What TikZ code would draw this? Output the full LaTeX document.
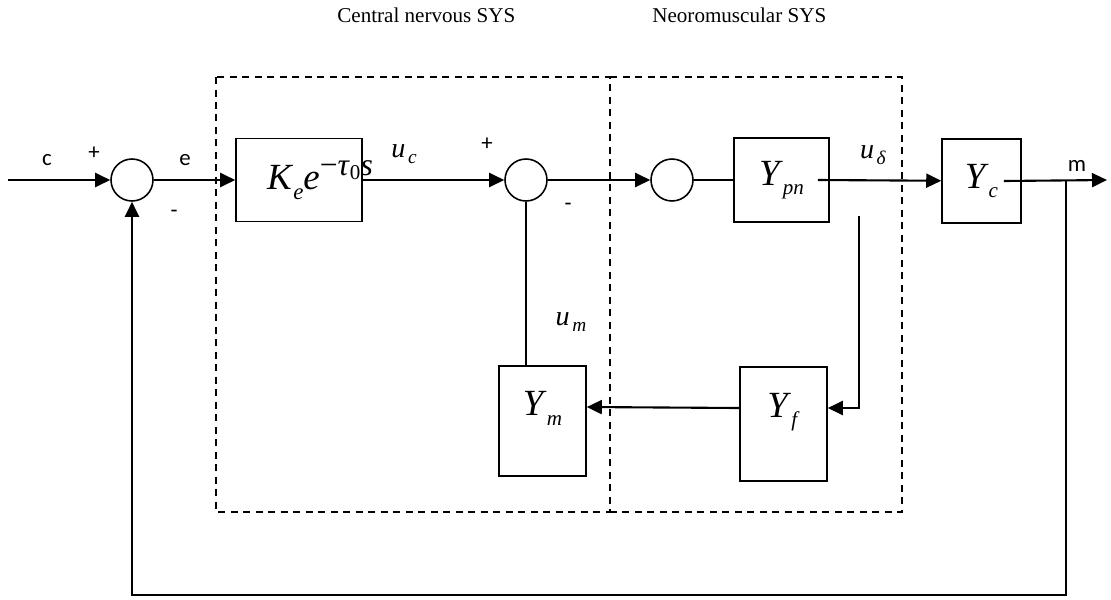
\documentclass[tikz,border=0pt]{standalone}
\usepackage{fontspec}
\setmainfont{Liberation Serif}
\newfontfamily\signfont{Carlito}
\usetikzlibrary{positioning, arrows.meta, calc}

\newcommand{\gainsub}[2]{\textit{#1}\raisebox{-5.5pt}{\fontsize{12}{12}\selectfont\textit{#2}}}
\newcommand{\sigsub}[2]{\textit{#1}\kern1.5pt\raisebox{-3.5pt}{\fontsize{11}{11}\selectfont\textit{#2}}}

\begin{document}
\begin{tikzpicture}[x=0.02cm, y=-0.02cm,
    gainfont/.style={font=\fontsize{21}{24}\selectfont},
    blockbox/.style={draw, line width=0.9pt, inner sep=0pt, gainfont},
    sumnode/.style={circle, draw, line width=0.9pt, minimum size=0.84cm, inner sep=0pt},
    sig/.style={line width=1.2pt},
    thinsig/.style={line width=0.8pt},
    arr/.style={sig, -{Triangle[length=0.3cm, width=0.28cm]}},
    region/.style={line width=0.9pt, dash pattern=on 0.14cm off 0.11cm},
    sign/.style={font=\signfont\fontsize{13}{15}\selectfont, inner sep=0pt},
    siglabel/.style={font=\fontsize{16}{18}\selectfont, inner sep=0pt, anchor=base},
    title/.style={font=\fontsize{12}{14}\selectfont, inner sep=0pt, anchor=west}]

  \useasboundingbox (0,0) rectangle (1111,599);

  % subsystem regions
  \draw[region] (216,77) rectangle (610,512);
  \draw[region] (610,77) -- (902,77) -- (902,512) -- (610,512);
  \node[title] (cnstitle) at (337,15) {Central nervous SYS};
  \node[title] (nmstitle) at (652,15) {Neoromuscular SYS};

  % forward path
  \coordinate (cin) at (8,180);
  \node[sumnode] (S1) at (132,180) {};
  \node[blockbox, minimum width=2.52cm, minimum height=1.66cm,
        label={[gainfont, inner sep=0pt, xshift=0.42cm]center:\textit{K}\raisebox{-5.5pt}{\fontsize{13}{13}\selectfont\textit{e}}\textit{e}\raisebox{8pt}{\fontsize{18}{18}\selectfont −\textit{τ}\raisebox{-2.5pt}{\fontsize{12}{12}\selectfont 0}\textit{s}}}] (K) at (299,180) {};
  \node[sumnode] (S2) at (526,180) {};
  \node[sumnode] (S3) at (672,180) {};
  \node[blockbox, minimum width=1.9cm, minimum height=1.68cm] (Ypn) at (781.5,180) {\gainsub{Y}{pn}};
  \node[blockbox, minimum width=1.58cm, minimum height=1.68cm] (Yc) at (981.5,181) {\gainsub{Y}{c}};
  \coordinate (mout) at (1107,180);
  \coordinate (mtap) at (1066,180);

  % inner loop
  \node[blockbox, minimum width=1.74cm, minimum height=2.2cm,
        label={[gainfont, inner sep=0pt, yshift=0.25cm]center:\gainsub{Y}{m}}] (Ym) at (542.5,421) {};
  \node[blockbox, minimum width=1.74cm, minimum height=2.28cm,
        label={[gainfont, inner sep=0pt, yshift=0.24cm]center:\gainsub{Y}{f}}] (Yf) at (783.5,424) {};
  \coordinate (dtap) at (859,216);
  \coordinate (fbcorner) at (1066,595);

  % connectors
  \draw[arr] (cin) -- (S1);
  \draw[arr] (S1) -- (K);
  \draw[arr] (K) -- (S2);
  \draw[arr] (S2) -- (S3);
  \draw[thinsig] (S3) -- (Ypn);
  \draw[arr] ($(Ypn.east)+(-12,0)$) -- (Yc);
  \draw[arr] ($(Yc.east)+(-18,0)$) -- (mout);
  \draw[arr] (mtap) -- (fbcorner) -| (S1.south);
  \draw[thinsig] (S2.south) -- (S2.south |- Ym.north);
  \draw[arr] (dtap) |- ($(Yf.east)+(0,-16)$);
  \draw[arr] ($(Yf.west)+(0,-16)$) -- ($(Ym.east)+(0,-14)$);

  % signs and signal names
  \node[sign] (cl) at (47,160) {c};
  \node[sign] (s1plus) at (94,153) {+};
  \node[sign] (el) at (185,160) {e};
  \node[sign] (s1minus) at (174,214) {-};
  \node[sign] (s2plus) at (487,144) {+};
  \node[sign] (s2minus) at (568,207) {-};
  \node[sign] (ml) at (1077,166) {m};
  \node[siglabel] (ucl) at (404,157) {\sigsub{u}{c}};
  \node[siglabel] (udl) at (873,158) {\sigsub{u}{δ}};
  \node[siglabel] (uml) at (571,325) {\sigsub{u}{m}};
\end{tikzpicture}
\end{document}
